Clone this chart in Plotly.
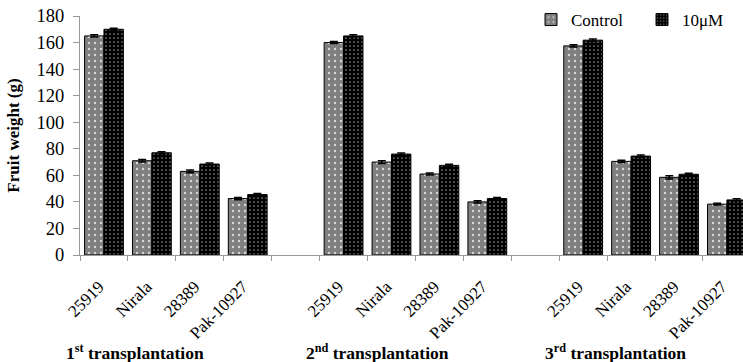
import plotly.graph_objects as go

# ---- data ----
cultivars = ["25919", "Nirala", "28389", "Pak-10927"]
transplantations = ["1<sup>st</sup> transplantation",
                    "2<sup>nd</sup> transplantation",
                    "3<sup>rd</sup> transplantation"]
control = [165, 71, 63, 42.5,
           160, 70, 61, 40,
           157.5, 70.5, 58.5, 38.3]
treated = [170, 77, 68.5, 45.5,
           165, 76, 67.5, 42.5,
           161.8, 74.5, 60.8, 41.5]
control_err = [0.8, 1.0, 1.0, 0.8, 0.8, 1.0, 0.8, 0.8, 0.8, 0.8, 1.2, 0.7]
treated_err = [0.8, 0.8, 0.8, 0.8, 0.8, 0.8, 0.8, 0.8, 0.8, 0.8, 0.8, 0.8]
y_ticks = [0, 20, 40, 60, 80, 100, 120, 140, 160, 180]

# category positions: 4 cultivars per group, one empty slot between groups
n_c = len(cultivars)
xpos = [g * (n_c + 1) + c + 0.5 for g in range(len(transplantations)) for c in range(n_c)]
xlabels = cultivars * len(transplantations)

FONT = "Times New Roman"
XMAX = 663 / 47.92

fig = go.Figure()
fig.add_trace(go.Bar(
    x=xpos, y=control, name="Control",
    marker=dict(color="#7f7f7f",
                line=dict(color="black", width=1),
                pattern=dict(shape=".", bgcolor="#7f7f7f", fgcolor="#d8d8d8",
                             size=6, solidity=0.12, fillmode="replace")),
    error_y=dict(type="data", array=control_err, color="black", thickness=1.5, width=4),
))
fig.add_trace(go.Bar(
    x=xpos, y=treated, name="10μM",
    marker=dict(color="#000000",
                line=dict(color="black", width=1),
                pattern=dict(shape=".", bgcolor="#000000", fgcolor="#8a8a8a",
                             size=4, solidity=0.15, fillmode="replace")),
    error_y=dict(type="data", array=treated_err, color="black", thickness=1.5, width=4),
))

for g, name in enumerate(transplantations):
    fig.add_annotation(
        x=(g * (n_c + 1) - 0.33) / XMAX, y=-0.405, xref="paper", yref="paper",
        text="<b>" + name + "</b>", showarrow=False,
        xanchor="left", yanchor="middle",
        font=dict(family=FONT, size=17.5, color="black"),
    )

fig.update_layout(
    width=743, height=362,
    margin=dict(l=80, r=0, t=16, b=107, autoexpand=False),
    plot_bgcolor="white", paper_bgcolor="white",
    barmode="group", bargap=0.19, bargroupgap=0,
    font=dict(family=FONT, color="black"),
    showlegend=True,
    legend=dict(orientation="h", xref="container", yref="container",
                x=531 / 743, y=1 - 2 / 362, xanchor="left", yanchor="top",
                font=dict(family=FONT, size=17, color="black"),
                entrywidth=66, entrywidthmode="pixels",
                bgcolor="rgba(0,0,0,0)"),
)
fig.update_xaxes(
    range=[0, XMAX],
    tickvals=xpos, ticktext=xlabels, tickangle=-45,
    ticks="", ticklabelstandoff=14, ticklabelshift=-5,
    tickfont=dict(family=FONT, size=17, color="black"),
    showline=True, linecolor="#999999", linewidth=1,
    showgrid=False, zeroline=False,
    minor=dict(ticks="outside", tick0=0, dtick=1, ticklen=5, tickcolor="#999999",
               showgrid=False),
)
fig.update_yaxes(
    range=[0, 180], tickvals=y_ticks,
    ticks="outside", ticklen=6, tickcolor="#999999", ticklabelstandoff=5,
    tickfont=dict(family=FONT, size=18.5, color="black"),
    showline=True, linecolor="#999999", linewidth=1,
    showgrid=False, zeroline=False,
    title=dict(text="<b>Fruit weight (g)</b>", standoff=12,
               font=dict(family=FONT, size=17, color="black")),
)

fig.write_html("out.html", config={"displayModeBar": False},
               post_script="document.body.style.margin='0';")
